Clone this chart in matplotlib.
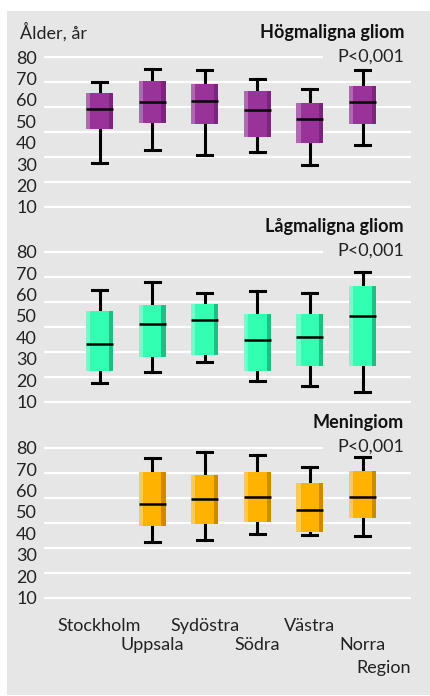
import numpy as np
import matplotlib.pyplot as plt
from matplotlib.patches import Rectangle

plt.rcParams['font.family'] = ['Lato', 'DejaVu Sans']

regioner = ['Stockholm', 'Uppsala', 'Sydöstra', 'Södra', 'Västra', 'Norra']

# ålder per region: nedre morrhår, q1, median, q3, övre morrhår
hog_lo  = [30.5, 36.7, 34.4, 35.8, 29.7, 39.0]
hog_q1  = [46.6, 49.4, 48.9, 42.8, 40.0, 48.9]
hog_med = [55.9, 59.2, 59.7, 55.5, 51.3, 59.2]
hog_q3  = [63.1, 68.9, 67.5, 64.4, 58.4, 66.6]
hog_hi  = [68.6, 74.5, 74.1, 69.8, 65.2, 74.1]

lag_lo  = [18.9, 23.9, 28.5, 19.7, 17.5, 14.5]
lag_q1  = [24.5, 30.7, 31.8, 24.5, 26.8, 26.8]
lag_med = [37.1, 46.4, 48.3, 38.9, 40.3, 50.1]
lag_q3  = [52.3, 55.1, 55.6, 50.9, 50.9, 64.0]
lag_hi  = [62.1, 66.0, 60.9, 61.5, 60.9, 70.4]

# inga meningiom redovisade för Stockholm
men_lo  = [None, 36.0, 37.1, 39.7, 39.3, 38.9]
men_q1  = [None, 43.5, 44.5, 45.5, 40.8, 47.3]
men_med = [None, 53.9, 56.2, 57.1, 51.1, 57.1]
men_q3  = [None, 68.6, 67.2, 68.6, 63.5, 69.1]
men_hi  = [None, 75.3, 78.1, 76.7, 71.1, 75.8]

grid_y = np.linspace(80, 10, 7)
yticks = [80, 70, 60, 50, 40, 30, 20, 10]

W, H = 430, 696
FS = 13
fig = plt.figure(figsize=(W / 100, H / 100), dpi=100, facecolor='white')
fig.patches.append(Rectangle((7 / W, 1 / H), 423 / W, 684 / H,
                             transform=fig.transFigure, facecolor='#e6e6e6',
                             edgecolor='none', zorder=-5))


def px(x, y):
    return x / W, 1 - y / H


def panel(top, bottom, lo, q1, med, q3, hi, colors, title):
    main, light, dark = colors
    x0, x1 = 44, 411
    ax = fig.add_axes([x0 / W, 1 - bottom / H, (x1 - x0) / W, (bottom - top) / H])
    ax.set_facecolor('none')
    c0, step = 99.5, 52.6
    xl = ((x0 - c0) / step, (x1 - c0) / step)
    ax.set_ylim(10, 80)
    for s in ax.spines.values():
        s.set_visible(False)
    ax.set_xticks([])
    ax.set_yticks(yticks)
    ax.set_yticklabels([str(v) for v in yticks], fontsize=FS, color='#222222')
    ax.tick_params(axis='y', length=0, pad=5)

    # vita stödlinjer, den översta kortare för p-värdet
    for i, g in enumerate(grid_y):
        xe = (323 - c0) / step if i == 0 else xl[1]
        ax.plot([xl[0], xe], [g, g], color='white', lw=1.6,
                clip_on=False, zorder=1, solid_capstyle='butt')

    stats, pos = [], []
    for i in range(len(regioner)):
        if med[i] is None:
            continue
        stats.append(dict(med=med[i], q1=q1[i], q3=q3[i],
                          whislo=lo[i], whishi=hi[i], fliers=[]))
        pos.append(i)
    bw, sw = 0.513, 0.078
    ax.bxp(stats, positions=pos, widths=bw, capwidths=0.285, patch_artist=True,
           showfliers=False,
           boxprops=dict(facecolor=main, edgecolor='none', zorder=3),
           whiskerprops=dict(color='black', lw=2.2, zorder=2),
           capprops=dict(color='black', lw=2.2, zorder=2),
           medianprops=dict(color='black', lw=1.8, zorder=5,
                            solid_capstyle='butt'),
           manage_ticks=False)
    for p, s in zip(pos, stats):
        h = s['q3'] - s['q1']
        ax.bar(p - bw / 2 + sw / 2, h, bottom=s['q1'], width=sw,
               color=light, zorder=4, linewidth=0)
        ax.bar(p + bw / 2 - sw / 2, h, bottom=s['q1'], width=sw,
               color=dark, zorder=4, linewidth=0)
    ax.set_xlim(*xl)

    fig.text(*px(404, top - 25), title, fontsize=FS, fontweight='bold',
             ha='right', va='center', color='#111111')
    fig.text(*px(404, top - 1), 'P<0,001', fontsize=FS,
             ha='right', va='center', color='#222222')
    return ax


purple = ('#993399', '#b366b3', '#772877')
green = ('#33ffb3', '#70ffcb', '#2ab885')
orange = ('#ffb300', '#ffca4f', '#c98c00')

panel(57.3, 206.7, hog_lo, hog_q1, hog_med, hog_q3, hog_hi, purple,
      'Högmaligna gliom')
panel(251.7, 401.7, lag_lo, lag_q1, lag_med, lag_q3, lag_hi, green,
      'Lågmaligna gliom')
panel(447.7, 597.7, men_lo, men_q1, men_med, men_q3, men_hi, orange,
      'Meningiom')

fig.text(*px(20, 32), 'Ålder, år', fontsize=FS, ha='left', va='center',
         color='#222222')

# regionnamnen växelvis på två rader
for i, namn in enumerate(regioner):
    y = 626 if i % 2 == 0 else 645
    fig.text(*px(99.5 + 52.6 * i, y), namn, fontsize=FS, ha='center',
             va='center', color='#222222')
fig.text(*px(411, 668), 'Region', fontsize=FS, ha='right', va='center',
         color='#222222')

fig.savefig('out.png', dpi=100, facecolor='white')
